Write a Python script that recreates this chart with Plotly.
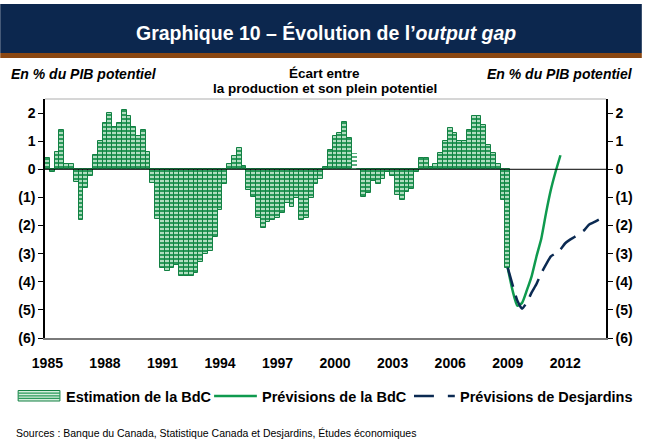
import plotly.graph_objects as go

# ---------------- data ----------------
years = ["1985", "1988", "1991", "1994", "1997", "2000", "2003", "2006", "2009", "2012"]
n_quarters = 117  # 1985Q1 .. 2014Q1

# Bank of Canada estimate, quarterly from 1985Q1 to 2009Q1 (% of potential GDP)
estimation_bdc = [
    0.4, -0.1, 0.6, 1.4, 0.2, 0.2, -0.45, -1.8,          # 1985-1986
    -0.65, -0.25, 0.5, 1.0, 1.65, 2.0, 1.5, 1.65,        # 1987-1988
    2.1, 1.9, 1.5, 1.2, 1.4, 0.6, -0.5, -1.75,           # 1989-1990
    -3.5, -3.6, -3.5, -3.4, -3.8, -3.8, -3.8, -3.7,      # 1991-1992
    -3.3, -3.0, -2.9, -2.4, -1.45, -0.53, 0.2, 0.47,     # 1993-1994
    0.75, 0.1, -0.73, -1.0, -1.73, -2.08, -1.88, -1.8,   # 1995-1996
    -1.73, -1.55, -1.2, -1.34, -1.02, -1.8, -1.73, -1.02,  # 1997-1998
    -0.52, -0.35, 0.09, 0.68, 1.19, 1.29, 1.67, 1.1,     # 1999-2000
    0.57, 0.0, -1.0, -0.85, -0.42, -0.53, -0.33, -0.08,  # 2001-2002
    -0.24, -0.9, -1.08, -0.79, -0.71, -0.08, 0.39, 0.39, # 2003-2004
    0.09, 0.19, 0.59, 1.0, 1.48, 1.29, 1.0, 1.0,         # 2005-2006
    1.39, 1.88, 1.88, 1.59, 0.88, 0.59, 0.19, -1.08,     # 2007-2008
    -3.5,                                                # 2009Q1
]
# Bank of Canada forecast, 2009Q1 .. 2011Q4
prevision_bdc = [-3.5, -4.3, -4.85, -4.75, -4.3, -3.8, -3.1, -2.47, -1.55, -0.73, -0.08, 0.5]
# Desjardins forecast, 2009Q1 .. 2013Q4
prevision_desj = [-3.5, -4.1, -4.67, -4.96, -4.73, -4.38, -4.08, -3.7, -3.38, -3.1,
                  -2.99, -2.85, -2.63, -2.5, -2.4, -2.28, -2.16, -1.96, -1.88, -1.79]
y_vals = [-6, -5, -4, -3, -2, -1, 0, 1, 2]
y_text = ["(6)", "(5)", "(4)", "(3)", "(2)", "(1)", "0", "1", "2"]

# ---------------- styling ----------------
FONT = "Liberation Sans"
GREEN = "#0f9a4e"
BAR_EDGE = "#128043"
BAR_BG = "#2a9a5a"
BAR_FG = "#d2eedb"
NAVY = "#0b2a52"
BANNER = "#0c274e"
BROWN = "#8a4712"

W, H = 645, 441
L, R, T, B = 45, 609, 99, 338


def px(x, y):
    return (x - L) / (R - L), (B - y) / (B - T)


est_x = list(range(len(estimation_bdc)))
bdc_x = list(range(96, 96 + len(prevision_bdc)))
desj_x = list(range(96, 96 + len(prevision_desj)))

special = 64  # bar drawn with stripes only
shapes_p = ["-"] * len(estimation_bdc)
bg = [BAR_BG] * len(estimation_bdc)
fg = [BAR_FG] * len(estimation_bdc)
lw = [1] * len(estimation_bdc)
bg[special] = "white"
fg[special] = BAR_BG
lw[special] = 0

fig = go.Figure()
fig.add_trace(go.Bar(
    x=est_x, y=estimation_bdc, width=1, showlegend=False,
    marker=dict(color=BAR_BG, line=dict(color=BAR_EDGE, width=lw),
                pattern=dict(shape=shapes_p, bgcolor=bg, fgcolor=fg,
                             size=4, solidity=0.4, fillmode="replace")),
))
fig.add_trace(go.Scatter(
    x=bdc_x, y=prevision_bdc, mode="lines", showlegend=False,
    line=dict(color=GREEN, width=2.5, shape="spline", smoothing=0.5),
))
fig.add_trace(go.Scatter(
    x=desj_x, y=prevision_desj, mode="lines", showlegend=False, yaxis="y2",
    line=dict(color=NAVY, width=2.5, dash="20px,9px", shape="spline", smoothing=0.5),
))

tickfont = dict(family=FONT, size=14, color="black", weight="bold")
yax = dict(range=[-6, 2.5], tickvals=y_vals, ticktext=y_text, showgrid=False,
           zeroline=False, showline=True, linecolor="black", linewidth=1.5,
           ticks="outside", ticklen=5, tickcolor="black", tickwidth=1,
           tickfont=tickfont, fixedrange=True)

fig.update_layout(
    width=W, height=H, autosize=False,
    margin=dict(l=L, r=W - R, t=T, b=H - B),
    paper_bgcolor="white", plot_bgcolor="white",
    bargap=0,
    xaxis=dict(range=[-0.5, n_quarters - 0.5], tickvals=list(range(0, 109, 12)),
               ticktext=years, showgrid=False, zeroline=False, showline=True,
               linecolor="#7a7a7a", linewidth=2, ticks="", tickfont=tickfont,
               ticklabelstandoff=11),
    yaxis=yax,
    yaxis2=dict(yax, overlaying="y", side="right", anchor="x"),
    font=dict(family=FONT, color="black"),
)

shapes = []
# banner
x0, _ = px(0, 0)
x1, _ = px(W, 0)
_, yb0 = px(0, 4)
_, yb1 = px(0, 53)
_, yb2 = px(0, 58)
shapes.append(dict(type="rect", xref="paper", yref="paper", x0=x0, x1=x1, y0=yb1, y1=yb0,
                   fillcolor=BANNER, line=dict(width=0), layer="above"))
shapes.append(dict(type="rect", xref="paper", yref="paper", x0=x0, x1=x1, y0=yb2, y1=yb1,
                   fillcolor=BROWN, line=dict(width=0), layer="above"))
# top border of plot
shapes.append(dict(type="line", xref="paper", yref="paper", x0=0, x1=1, y0=1, y1=1,
                   line=dict(color="#c8c8c8", width=1.5)))
# zero line
shapes.append(dict(type="line", xref="paper", yref="y", x0=0, x1=1, y0=0, y1=0,
                   line=dict(color="black", width=1), layer="above"))

# manual legend
ly = 396
sx0, sy0 = px(18, 390.5)
sx1, sy1 = px(60, 401)
shapes.append(dict(type="rect", xref="paper", yref="paper", x0=sx0, x1=sx1, y0=sy1, y1=sy0,
                   fillcolor="#d5eedd", line=dict(color=BAR_EDGE, width=1)))
for yy in (393.2, 395.8, 398.4):
    a, b_ = px(18, yy)
    c, _ = px(60, yy)
    shapes.append(dict(type="line", xref="paper", yref="paper", x0=a, x1=c, y0=b_, y1=b_,
                       line=dict(color=BAR_BG, width=1.2)))
a, b_ = px(215, ly)
c, _ = px(258, ly)
shapes.append(dict(type="line", xref="paper", yref="paper", x0=a, x1=c, y0=b_, y1=b_,
                   line=dict(color=GREEN, width=2.5)))
for (u, v) in ((416, 436), (450, 457)):
    a, b_ = px(u, ly)
    c, _ = px(v, ly)
    shapes.append(dict(type="line", xref="paper", yref="paper", x0=a, x1=c, y0=b_, y1=b_,
                       line=dict(color=NAVY, width=2.5)))

fig.update_layout(shapes=shapes)


def text(x, y, s, size, xanchor="left", color="black", bold=True, italic=False):
    if italic:
        s = "<i>" + s + "</i>"
    if bold:
        s = "<b>" + s + "</b>"
    ax, ay = px(x, y)
    fig.add_annotation(x=ax, y=ay, xref="paper", yref="paper", text=s, showarrow=False,
                       xanchor=xanchor, yanchor="middle",
                       font=dict(family=FONT, size=size, color=color))


text(328, 33, "Graphique 10 – Évolution de l’<i>output gap</i>", 19.5, "center", "white")
text(9, 74, "En % du PIB potentiel", 14, "left", italic=True)
text(638, 74, "En % du PIB potentiel", 14, "right", italic=True)
text(326, 73, "Écart entre", 13.5, "center")
text(326, 88, "la production et son plein potentiel", 13.5, "center")
text(64, 397, "Estimation de la BdC", 14.5, "left")
text(261, 397, "Prévisions de la BdC", 14.5, "left")
text(460, 397, "Prévisions de Desjardins", 14.5, "left")
text(14, 433, "Sources : Banque du Canada, Statistique Canada et Desjardins, Études économiques",
     10.5, "left", bold=False)

fig.write_html(
    "out.html",
    config={"displayModeBar": False},
    post_script="document.body.style.margin='0';document.body.style.overflow='hidden';",
)
